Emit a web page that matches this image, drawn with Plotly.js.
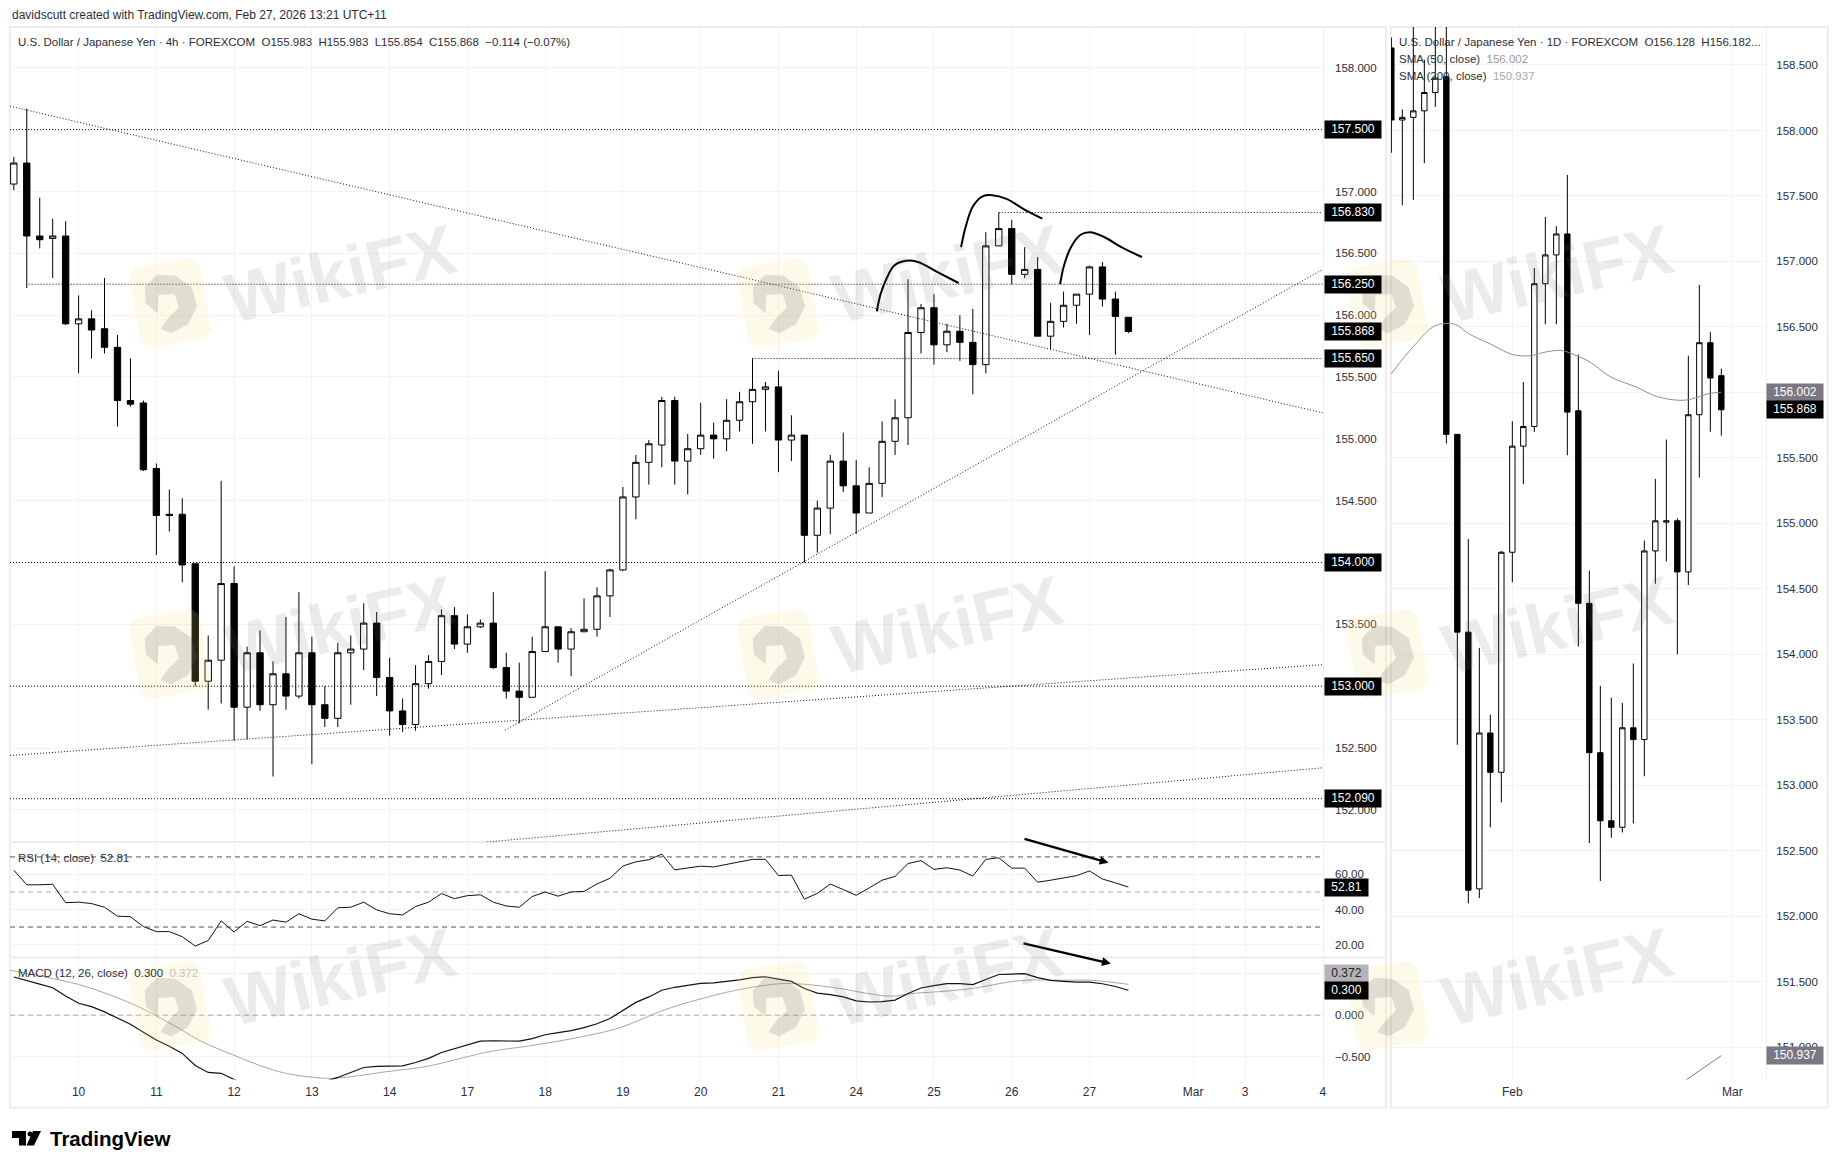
<!DOCTYPE html>
<html><head><meta charset="utf-8">
<script src="https://cdn.plot.ly/plotly-3.0.1.min.js"></script>
<style>html,body{margin:0;padding:0;background:#fff}</style></head>
<body><div id="chart" style="width:1838px;height:1168px"></div>
<script>
// ---- 4h candles (bar index starts at h4Start; tick "10" = bar 0)
const h4Start=-5;
const h4Open=[157.06,157.23,156.64,156.62,156.64,155.93,155.97,155.89,155.74,155.31,155.29,154.76,154.39,154.39,153.99,153.04,153.21,153.83,152.83,153.27,152.85,153.10,152.92,153.27,152.85,152.74,153.27,153.30,153.51,153.07,152.80,152.69,153.02,153.20,153.57,153.34,153.48,153.51,153.15,152.96,152.91,153.28,153.48,153.30,153.44,153.46,153.73,153.94,154.53,154.81,154.95,155.31,154.82,154.92,155.03,155.00,155.15,155.30,155.40,155.42,154.99,155.03,154.22,154.44,154.82,154.62,154.40,154.64,154.98,155.17,155.86,156.06,155.76,155.87,155.78,155.60,156.56,156.70,156.33,156.37,155.83,155.95,156.08,156.17,156.39,156.13,155.983];
const h4High=[157.28,157.67,156.95,156.78,156.76,156.16,156.04,156.30,155.84,155.65,155.31,154.80,154.59,154.52,153.99,153.41,154.66,153.97,153.32,153.45,153.20,153.56,153.76,153.40,153.00,153.35,153.41,153.67,153.60,153.23,152.90,153.17,153.25,153.62,153.64,153.58,153.54,153.76,153.27,153.19,153.40,153.93,153.48,153.47,153.71,153.80,153.95,154.61,154.87,154.99,155.34,155.34,155.04,155.29,155.13,155.32,155.38,155.65,155.46,155.55,155.19,155.03,154.50,154.87,155.05,154.83,154.77,155.14,155.32,156.29,156.09,156.17,155.93,156.00,156.05,156.67,156.83,156.77,156.55,156.47,156.10,156.19,156.17,156.40,156.43,156.19,155.983];
const h4Low=[157.01,156.22,156.54,156.30,155.92,155.53,155.65,155.69,155.10,155.26,154.74,154.06,154.25,153.84,153.00,152.81,152.86,152.56,152.57,152.80,152.27,152.81,152.90,152.37,152.67,152.67,152.85,153.13,152.92,152.60,152.63,152.64,152.98,153.09,153.30,153.27,153.47,153.14,152.90,152.70,152.91,153.28,153.19,153.08,153.44,153.40,153.56,153.93,154.35,154.63,154.77,154.63,154.55,154.87,154.84,154.90,155.06,154.96,155.06,154.73,154.82,154.00,154.08,154.23,154.57,154.23,154.40,154.53,154.87,154.95,155.69,155.60,155.70,155.63,155.36,155.53,156.56,156.25,156.30,155.83,155.72,155.90,155.93,155.84,156.07,155.68,155.854];
const h4Close=[157.23,156.64,156.61,156.64,155.93,155.97,155.88,155.74,155.31,155.28,154.75,154.38,154.38,153.98,153.04,153.21,153.83,152.83,153.27,152.85,153.10,152.92,153.27,152.85,152.74,153.27,153.30,153.51,153.07,152.80,152.69,153.02,153.20,153.57,153.34,153.48,153.51,153.15,152.96,152.91,153.28,153.48,153.30,153.44,153.46,153.73,153.94,154.53,154.81,154.96,155.31,154.82,154.92,155.03,155.00,155.15,155.30,155.40,155.42,154.99,155.03,154.22,154.44,154.82,154.62,154.40,154.64,154.98,155.17,155.86,156.06,155.76,155.87,155.78,155.60,156.56,156.70,156.33,156.37,155.83,155.95,156.08,156.17,156.39,156.13,155.99,155.868];
// ---- RSI, MACD (same bars)
const rsi=[62.4,54.1,54.1,54.4,43.9,44.2,43.4,41.3,36.2,35.9,30.3,27.4,27.4,24.5,19.2,22.3,33.5,27.2,33.3,30.8,34,32.8,37.6,34.5,33.5,41,41.3,44.2,39.8,37.6,36.9,41.7,44.2,49.1,46.2,47.9,48.4,44.2,42,41.3,47.4,50,47.6,50,50.3,54.6,57.8,64.8,67.2,68.4,71.6,62.6,63.7,64.7,64.3,65.8,67.5,68.6,68.6,59.4,59.6,45.9,49.2,54.5,51.4,48.1,52.3,56.7,58.9,66.2,67.9,62.9,63.8,62.5,59.1,68.6,69.5,63.6,63.6,55.6,56.7,58,59.3,62,57.4,55.2,52.81];
const macd=[0.46,0.42,0.375,0.33,0.23,0.144,0.103,0.04,-0.04,-0.11,-0.205,-0.30,-0.375,-0.46,-0.606,-0.69,-0.70,-0.775,-0.85,-0.88,-0.92,-0.93,-0.92,-0.90,-0.80,-0.75,-0.69,-0.63,-0.616,-0.61,-0.61,-0.57,-0.52,-0.45,-0.405,-0.355,-0.313,-0.308,-0.308,-0.313,-0.282,-0.236,-0.21,-0.185,-0.149,-0.103,-0.04,0.06,0.154,0.22,0.30,0.336,0.36,0.383,0.39,0.407,0.425,0.453,0.463,0.435,0.407,0.322,0.266,0.248,0.22,0.173,0.159,0.164,0.182,0.262,0.327,0.355,0.379,0.379,0.369,0.43,0.49,0.495,0.50,0.453,0.42,0.407,0.397,0.397,0.379,0.346,0.30];
const signalBar=[-5.29,-2.6,0,2.2,4.26,5.9,7.7,9.4,11.9,14.6,16.3,17.9,19.7,23.8,26.9,30,31.8,35.2,38.6,41.7,44.8,46.3,48,50,52,54.1,55.9,58.9,60.7,62.6,64.4,67,69.2,71.8,73.7,75.9,78.1,81];
const signalVal=[0.54,0.46,0.37,0.257,0.128,0,-0.154,-0.31,-0.477,-0.64,-0.71,-0.745,-0.76,-0.68,-0.616,-0.50,-0.436,-0.36,-0.267,-0.154,0.04,0.12,0.196,0.276,0.336,0.379,0.374,0.318,0.266,0.229,0.262,0.29,0.327,0.40,0.425,0.42,0.42,0.372];
// ---- daily candles (tick "Feb" = bar 0)
const d1Start=-11;
const d1Open=[158.63,158.08,158.10,158.15,158.29,158.41,155.68,154.17,152.21,153.40,153.10,154.78,155.59,155.74,156.83,157.05,157.21,155.86,154.39,153.25,152.73,152.68,153.44,153.35,154.79,155.01,155.02,154.63,155.83,156.38,156.128];
const d1High=[158.71,158.16,158.95,158.54,159.00,159.30,155.68,154.88,154.05,153.54,154.79,155.78,156.08,156.95,157.34,157.27,157.66,156.29,154.64,153.76,153.67,153.63,153.93,154.87,155.34,155.64,155.04,156.28,156.82,156.46,156.182];
const d1Low=[157.83,157.43,157.47,157.75,158.18,155.61,153.31,152.10,152.14,152.68,152.87,154.55,155.30,155.70,156.52,156.52,155.52,154.06,152.56,152.27,152.60,152.64,152.71,153.07,154.54,154.71,154.00,154.53,155.35,155.70,155.67];
const d1Close=[158.08,158.10,158.15,158.29,158.40,155.68,154.17,152.20,153.40,153.10,154.78,155.59,155.74,156.83,157.05,157.21,155.85,154.39,153.25,152.73,152.68,153.44,153.35,154.79,155.02,155.02,154.63,155.83,156.38,156.11,155.868];
const sma50Bar=[-11.03,-9,-7,-5.2,-4,-2,0,1.6,3.1,4.5,5.85,7.1,8.9,11.3,13.1,15.2,16.3,17.8,19];
const sma50Val=[156.14,156.35,156.51,156.52,156.45,156.37,156.29,156.28,156.31,156.32,156.28,156.23,156.12,156.04,155.97,155.94,155.95,155.99,156.002];
const sma200Bar=[15.76,19];
const sma200Val=[150.75,150.937];
// ---- drawn levels and trend lines
const hLevels=[[157.5,-5.29],[156.25,-3.86],[156.83,71],[155.65,52],[154,-5.29],[153,-5.29],[152.09,-5.29]];
const trendLines=[
 {bar:[-5.29,96],val:[157.69,155.21]},
 {bar:[32.9,96],val:[152.645,156.37]},
 {bar:[-5.29,96],val:[152.44,153.174]},
 {bar:[31.5,96],val:[151.74,152.34]}];
const arcs=[
 {bar:[61.59,61.88,62.36,62.92,63.84,64.76,66.24,67.90],val:[156.03,156.17,156.30,156.40,156.44,156.43,156.35,156.26]},
 {bar:[68.09,68.46,69.01,69.75,70.49,71.60,72.89,74.36],val:[156.55,156.72,156.88,156.96,156.97,156.94,156.86,156.78]},
 {bar:[75.73,76.03,76.57,77.32,78.06,79.16,80.46,82.05],val:[156.25,156.40,156.55,156.65,156.67,156.63,156.55,156.47]}];
// ---- axis labels
const h4TickBars=[0,6,12,18,24,30,36,42,48,54,60,66,72,78,86,90,96];
const h4TickText=['10','11','12','13','14','17','18','19','20','21','24','25','26','27','Mar','3','4'];
const priceTicks=[152,152.5,153,153.5,154,154.5,155,155.5,156,156.5,157,157.5,158];
const priceTickText=['152.000','152.500','','153.500','','154.500','155.000','155.500','156.000','156.500','157.000','','158.000'];
const rsiTicks=[20,40,60];
const rsiTickText=['20.00','40.00','60.00'];
const macdTicks=[-0.5,0,0.5];
const macdTickText=['−0.500','0.000',''];
const d1TickBars=[0,20];
const d1TickText=['Feb','Mar'];
const d1PriceTicks=[151,151.5,152,152.5,153,153.5,154,154.5,155,155.5,156,156.5,157,157.5,158,158.5];
const d1PriceTickText=['151.000','151.500','152.000','152.500','153.000','153.500','154.000','154.500','155.000','155.500','','156.500','157.000','157.500','158.000','158.500'];
const h4Badges=[157.5,156.83,156.25,155.868,155.65,154,153,152.09];

const W=1838,H=1168,FF='Liberation Sans, Arial, sans-serif';
const GRID='#f3f3f3',TXT='#2a2e39',FRAME='#ededed';
const px=x=>x/W, py=y=>1-y/H;
const L=10,R=1322.7,DL=1391,DR=1766,TOP=27,P1=842,P2=957.4,BOT=1079.6;
const barsOf=(s,n)=>Array.from({length:n},(_,k)=>s+k);
const hx=barsOf(h4Start,h4Open.length), dx=barsOf(d1Start,d1Open.length);
const cdl=(x,o,h,l,c,xa,ya)=>({type:'candlestick',x:x,open:o,high:h,low:l,close:c,xaxis:xa,yaxis:ya,
  increasing:{line:{color:'#000',width:1},fillcolor:'#fff'},decreasing:{line:{color:'#000',width:1},fillcolor:'#000'},
  whiskerwidth:0,hoverinfo:'skip',showlegend:false});
const ln=(x,y,xa,ya,color,width,dash,shape)=>({type:'scatter',mode:'lines',x:x,y:y,xaxis:xa,yaxis:ya,hoverinfo:'skip',showlegend:false,
  line:{color:color,width:width,dash:dash||'solid',shape:shape||'linear',smoothing:1}});
const DOT='1px,2px';
const traces=[];
hLevels.forEach(l=>traces.push(ln([l[1],96],[l[0],l[0]],'x','y','#000',1,DOT)));
trendLines.forEach(t=>traces.push(ln(t.bar,t.val,'x','y','#111',1,DOT)));
traces.push(cdl(hx,h4Open,h4High,h4Low,h4Close,'x','y'));
arcs.forEach(a=>traces.push(ln(a.bar,a.val,'x','y','#000',2,'solid','spline')));
[[70,'#555'],[50,'#aaa'],[30,'#555']].forEach(d=>traces.push(ln([-5.29,96],[d[0],d[0]],'x2','y2',d[1],1,'5px,4px')));
traces.push(ln(hx,rsi,'x2','y2','#111',1));
traces.push(ln([-5.29,96],[0,0],'x3','y3','#aaa',1,'5px,4px'));
traces.push(ln(signalBar,signalVal,'x3','y3','#a6a6a6',1,'solid','spline'));
traces.push(ln(hx,macd,'x3','y3','#111',1.2));
traces.push(ln(sma50Bar,sma50Val,'x4','y4','#8f8f8f',1,'solid','spline'));
traces.push(ln(sma200Bar,sma200Val,'x4','y4','#777',1));
traces.push(cdl(dx,d1Open,d1High,d1Low,d1Close,'x4','y4'));

const yax=(dom,range,ticks,labels,anchor,standoff)=>({domain:dom,range:range,tickmode:'array',tickvals:ticks,ticktext:labels,side:'right',anchor:anchor,
  showgrid:true,gridcolor:GRID,gridwidth:1,zeroline:false,showline:true,linecolor:'#eeeeee',ticks:'',ticklabelstandoff:standoff,
  tickfont:{family:FF,size:11.5,color:TXT},fixedrange:true});
const xax=(dom,range,ticks,text,anchor,show)=>({domain:dom,range:range,tickmode:'array',tickvals:ticks,ticktext:text,anchor:anchor,
  showgrid:true,gridcolor:GRID,gridwidth:1,zeroline:false,showline:false,ticks:'',showticklabels:show,ticklabelstandoff:3,
  rangeslider:{visible:false},tickfont:{family:FF,size:12,color:TXT},fixedrange:true});
const hxr=[(L-78.6)/12.96,(R-78.6)/12.96];
const hd=[px(L),px(R)], dd=[px(DL),px(DR)];

const ann=[];
const text=(x,y,t,o)=>ann.push(Object.assign({xref:'paper',yref:'paper',x:px(x),y:py(y),text:t,showarrow:false,xanchor:'left',yanchor:'middle',
  font:{family:FF,size:11.5,color:TXT}},o||{}));
text(10,15,'davidscutt created with TradingView.com, Feb 27, 2026 13:21 UTC+11',{font:{family:FF,size:12,color:TXT}});
text(16,42,'U.S. Dollar / Japanese Yen · 4h · FOREXCOM &nbsp;O155.983 &nbsp;H155.983 &nbsp;L155.854 &nbsp;C155.868 &nbsp;−0.114 (−0.07%)');
text(16,858,'RSI (14, close) &nbsp;52.81');
text(16,973,'MACD (12, 26, close) &nbsp;0.300 &nbsp;<span style="color:#c2c2c2">0.372</span>');
text(1397,42,'U.S. Dollar / Japanese Yen · 1D · FOREXCOM &nbsp;O156.128 &nbsp;H156.182...');
text(1397,59,'SMA (50, close) &nbsp;<span style="color:#999">156.002</span>');
text(1397,76,'SMA (200, close) &nbsp;<span style="color:#aaa">150.937</span>');
text(48,1138,'<b>TradingView</b>',{font:{family:FF,size:20.5,color:'#000'}});

const badge=(xC,w,yref,v,s,bg,fg)=>ann.push({xref:'paper',yref:yref,x:px(xC),y:v,text:s,showarrow:false,xanchor:'center',yanchor:'middle',
  width:w,height:16.5,bgcolor:bg,borderpad:0,align:'center',font:{family:FF,size:12,color:fg||'#fff'}});
h4Badges.forEach(v=>badge(1353,56,'y',v,v.toFixed(3),'#000'));
badge(1346.5,43,'y2',52.81,'52.81','#000');
badge(1346.5,43,'paper',py(973.7),'0.372','#b4b4b8','#222');
badge(1346.5,43,'paper',py(990.5),'0.300','#000');
badge(1795,56,'y4',156.002,'156.002','#7b7783');
badge(1795,56,'y4',155.868,'155.868','#000');
badge(1795,56,'y4',150.937,'150.937','#7b7783');
const arrow=(x1,y1,x0,y0)=>ann.push({xref:'paper',yref:'paper',x:px(x1),y:py(y1),ax:x0-x1,ay:y0-y1,axref:'pixel',ayref:'pixel',text:'',showarrow:true,
  arrowhead:2,arrowsize:0.8,arrowwidth:2.2,arrowcolor:'#000'});
arrow(1108.5,862.8,1023,838.4);
arrow(1110.8,963.6,1022,943);

// frames
const shapes=[];
const fr=(x0,y0,x1,y1)=>shapes.push({type:'rect',xref:'paper',yref:'paper',x0:px(x0),y0:py(y0),x1:px(x1),y1:py(y1),line:{color:FRAME,width:2},layer:'below'});
fr(10,27,1386,1107.5); fr(1391,27,1827.7,1107.5);
[P1,P2].forEach(y=>shapes.push({type:'line',xref:'paper',yref:'paper',x0:px(10),x1:px(1386),y0:py(y),y1:py(y),line:{color:FRAME,width:2},layer:'below'}));
// TradingView mark
const pathOf=pts=>pts.map((p,k)=>(k?'L':'M')+px(p[0]).toFixed(5)+','+py(p[1]).toFixed(5)).join(' ')+' Z';
[[[12,1131],[26,1131],[26,1145.5],[19,1145.5],[19,1138],[12,1138]],
 [[33,1131],[41,1131],[34,1145.5],[26.5,1145.5]]].forEach(p=>shapes.push({type:'path',xref:'paper',yref:'paper',path:pathOf(p),fillcolor:'#000',line:{width:0}}));
shapes.push({type:'circle',xref:'paper',yref:'paper',x0:px(27.5),x1:px(32.5),y0:py(1131.5),y1:py(1136.5),fillcolor:'#000',line:{width:0}});
// WikiFX watermarks
const rot=(cx,cy,a,pts)=>pts.map(p=>[cx+p[0]*Math.cos(a)-p[1]*Math.sin(a),cy+p[0]*Math.sin(a)+p[1]*Math.cos(a)]);
const wmX=[340,948,1557], wmY=[274,625,977];
wmY.forEach(yc=>wmX.forEach(xc=>{
  ann.push({xref:'paper',yref:'paper',x:px(xc),y:py(yc),xanchor:'center',yanchor:'middle',text:'<b>WikiFX</b>',showarrow:false,textangle:-13,
    font:{family:FF,size:70,color:'rgba(120,110,105,0.14)'}});
  const lx=xc-170,ly=yc+29,a=-10*Math.PI/180;
  const r=[],hw=36,hh=41,c=8;
  r.push([-hw+c,-hh],[hw-c,-hh],[hw,-hh+c],[hw,hh-c],[hw-c,hh],[-hw+c,hh],[-hw,hh-c],[-hw,-hh+c]);
  shapes.push({type:'path',xref:'paper',yref:'paper',path:pathOf(rot(lx,ly,a,r)),fillcolor:'rgba(250,225,130,0.17)',line:{width:0},layer:'above'});
  const b=[[-22,-20],[-8,-30],[10,-26],[24,-12],[26,8],[14,24],[-4,30],[-14,24],[-4,14],[8,6],[6,-8],[-10,-10],[-14,8],[-24,-4]];
  shapes.push({type:'path',xref:'paper',yref:'paper',path:pathOf(rot(lx,ly,a,b)),fillcolor:'rgba(110,105,105,0.20)',line:{width:0},layer:'above'});
}));

Plotly.newPlot('chart',traces,{
  width:W,height:H,margin:{l:0,r:0,t:0,b:0,pad:0},paper_bgcolor:'#fff',plot_bgcolor:'#fff',showlegend:false,boxgap:0.3,
  xaxis:xax(hd,hxr,h4TickBars,h4TickText,'y',false),
  yaxis:yax([py(P1),py(TOP)],[151.74,158.33],priceTicks,priceTickText,'x',9),
  xaxis2:xax(hd,hxr,h4TickBars,h4TickText,'y2',false),
  yaxis2:yax([py(P2),py(P1)],[12.7,78.5],rsiTicks,rsiTickText,'x2',9),
  xaxis3:xax(hd,hxr,h4TickBars,h4TickText,'y3',true),
  yaxis3:yax([py(BOT),py(P2)],[-0.776,0.696],macdTicks,macdTickText,'x3',9),
  xaxis4:xax(dd,[-11.03,23.06],d1TickBars,d1TickText,'y4',true),
  yaxis4:yax([py(BOT),py(TOP)],[150.754,158.79],d1PriceTicks,d1PriceTickText,'x4',7),
  shapes:shapes,annotations:ann
},{staticPlot:true,displayModeBar:false});
</script></body></html>
